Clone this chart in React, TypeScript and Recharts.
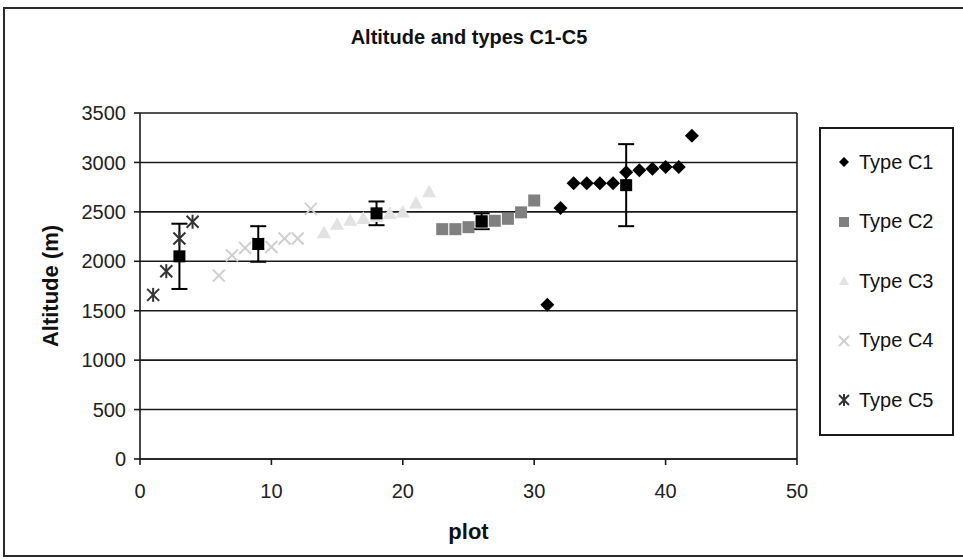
import React from "react";
import { ScatterChart, Scatter, XAxis, YAxis, CartesianGrid, ErrorBar, ReferenceLine } from "recharts";

// plot number / altitude (m) per type
const c1Plot = [31, 32, 33, 34, 35, 36, 37, 38, 39, 40, 41, 42];
const c1Alt = [1560, 2540, 2790, 2790, 2790, 2790, 2900, 2920, 2935, 2955, 2955, 3270];

const c2Plot = [23, 24, 25, 26, 27, 28, 29, 30];
const c2Alt = [2325, 2325, 2345, 2390, 2410, 2430, 2495, 2615];

const c3Plot = [14, 15, 16, 17, 18, 19, 20, 21, 22];
const c3Alt = [2290, 2375, 2415, 2435, 2455, 2485, 2500, 2590, 2705];

const c4Plot = [6, 7, 8, 9, 10, 11, 12, 13];
const c4Alt = [1855, 2060, 2135, 2180, 2145, 2230, 2230, 2530];

const c5Plot = [1, 2, 3, 4];
const c5Alt = [1660, 1900, 2230, 2400];

// group means with error bars
const meanPlot = [3, 9, 18, 26, 37];
const meanAlt = [2050, 2175, 2485, 2405, 2770];
const meanErr = [330, 180, 120, 80, 415];

const xTicks = [0, 10, 20, 30, 40, 50];
const yTicks = [0, 500, 1000, 1500, 2000, 2500, 3000, 3500];

const zip = (xs: number[], ys: number[]) => xs.map((x, i) => ({ plot: x, alt: ys[i] }));

const c1 = zip(c1Plot, c1Alt);
const c2 = zip(c2Plot, c2Alt);
const c3 = zip(c3Plot, c3Alt);
const c4 = zip(c4Plot, c4Alt);
const c5 = zip(c5Plot, c5Alt);
const means = meanPlot.map((x, i) => ({ plot: x, alt: meanAlt[i], err: meanErr[i] }));

const FONT = "'Liberation Sans', Arial, sans-serif";

// eslint-disable-next-line @typescript-eslint/no-explicit-any
const Diamond = ({ cx, cy, s = 7, fill = "#000" }: any) => (
  <polygon points={`${cx},${cy - s} ${cx + s},${cy} ${cx},${cy + s} ${cx - s},${cy}`} fill={fill} />
);
// eslint-disable-next-line @typescript-eslint/no-explicit-any
const Square = ({ cx, cy, s = 6, fill }: any) => (
  <rect x={cx - s} y={cy - s} width={s * 2} height={s * 2} fill={fill} />
);
// eslint-disable-next-line @typescript-eslint/no-explicit-any
const Triangle = ({ cx, cy, s = 7, fill }: any) => (
  <polygon points={`${cx},${cy - s} ${cx + s},${cy + s * 0.8} ${cx - s},${cy + s * 0.8}`} fill={fill} />
);
// eslint-disable-next-line @typescript-eslint/no-explicit-any
const Cross = ({ cx, cy, s = 6, stroke }: any) => (
  <g stroke={stroke} strokeWidth={2}>
    <line x1={cx - s} y1={cy - s} x2={cx + s} y2={cy + s} />
    <line x1={cx - s} y1={cy + s} x2={cx + s} y2={cy - s} />
  </g>
);
// eslint-disable-next-line @typescript-eslint/no-explicit-any
const Star = ({ cx, cy, s = 6, stroke }: any) => (
  <g stroke={stroke} strokeWidth={2}>
    <line x1={cx - s} y1={cy - s} x2={cx + s} y2={cy + s} />
    <line x1={cx - s} y1={cy + s} x2={cx + s} y2={cy - s} />
    <line x1={cx} y1={cy - s - 1} x2={cx} y2={cy + s + 1} />
  </g>
);

const series = [
  { name: "Type C1", data: c1, color: "#000000", Shape: Diamond },
  { name: "Type C2", data: c2, color: "#808080", Shape: Square },
  { name: "Type C3", data: c3, color: "#e2e2e2", Shape: Triangle },
  { name: "Type C4", data: c4, color: "#cfcfcf", Shape: Cross },
  { name: "Type C5", data: c5, color: "#333333", Shape: Star },
];

export default function App() {
  return (
    <div style={{ position: "absolute", left: 0, top: 0, width: 963, height: 560, overflow: "hidden", background: "#fff", fontFamily: FONT }}>
      <div style={{ position: "absolute", left: 3, top: 7, width: 975, height: 546, border: "2px solid #2a2a2a" }} />
      <div style={{ position: "absolute", left: 0, top: 26, width: 938, textAlign: "center", fontWeight: "bold", fontSize: 20, color: "#111" }}>
        Altitude and types C1-C5
      </div>
      <ScatterChart width={963} height={560} margin={{ top: 113, right: 166, bottom: 61, left: 70 }} style={{ position: "absolute", left: 0, top: 0 }}>
        <CartesianGrid horizontal vertical={false} stroke="#1a1a1a" strokeWidth={1.6} />
        <XAxis
          type="number"
          dataKey="plot"
          domain={[0, 50]}
          ticks={xTicks}
          height={40}
          stroke="#1a1a1a"
          strokeWidth={1.6}
          tickSize={6}
          tickMargin={19}
          tick={{ fontSize: 20, fill: "#222", fontFamily: FONT }}
          label={{
            value: "plot",
            position: "bottom",
            offset: 24,
            style: { fontSize: 22, fontWeight: "bold", fill: "#111", fontFamily: FONT },
          }}
        />
        <YAxis
          type="number"
          dataKey="alt"
          domain={[0, 3500]}
          ticks={yTicks}
          width={70}
          stroke="#1a1a1a"
          strokeWidth={1.6}
          tickSize={6}
          tickMargin={8}
          tick={{ fontSize: 20, fill: "#222", fontFamily: FONT }}
          label={{
            value: "Altitude (m)",
            angle: -90,
            position: "left",
            offset: 20,
            style: { fontSize: 22, fontWeight: "bold", fill: "#111", fontFamily: FONT, textAnchor: "middle" },
          }}
        />
        <ReferenceLine x={50} stroke="#1a1a1a" strokeWidth={1.6} />
        {series.map((s) => (
          <Scatter
            key={s.name}
            name={s.name}
            data={s.data}
            isAnimationActive={false}
            // eslint-disable-next-line @typescript-eslint/no-explicit-any
            shape={(p: any) => <s.Shape cx={p.cx} cy={p.cy} fill={s.color} stroke={s.color} />}
          />
        ))}
        <Scatter
          name="mean"
          data={means}
          isAnimationActive={false}
          // eslint-disable-next-line @typescript-eslint/no-explicit-any
          shape={(p: any) => <Square cx={p.cx} cy={p.cy} s={6} fill="#000" />}
        >
          <ErrorBar dataKey="err" direction="y" width={8} stroke="#000" strokeWidth={2} />
        </Scatter>
      </ScatterChart>
      <div style={{ position: "absolute", left: 819, top: 127, width: 131, height: 305, border: "2px solid #1a1a1a", background: "#fff" }}>
        {series.map((s, i) => (
          <div key={s.name} style={{ position: "absolute", left: 0, top: 20 + i * 59.5, height: 26, display: "flex", alignItems: "center" }}>
            <svg width={40} height={26}>
              <s.Shape cx={23} cy={13} s={5} fill={s.color} stroke={s.color} />
            </svg>
            <span style={{ fontSize: 20, color: "#111", marginLeft: -2 }}>{s.name}</span>
          </div>
        ))}
      </div>
    </div>
  );
}
